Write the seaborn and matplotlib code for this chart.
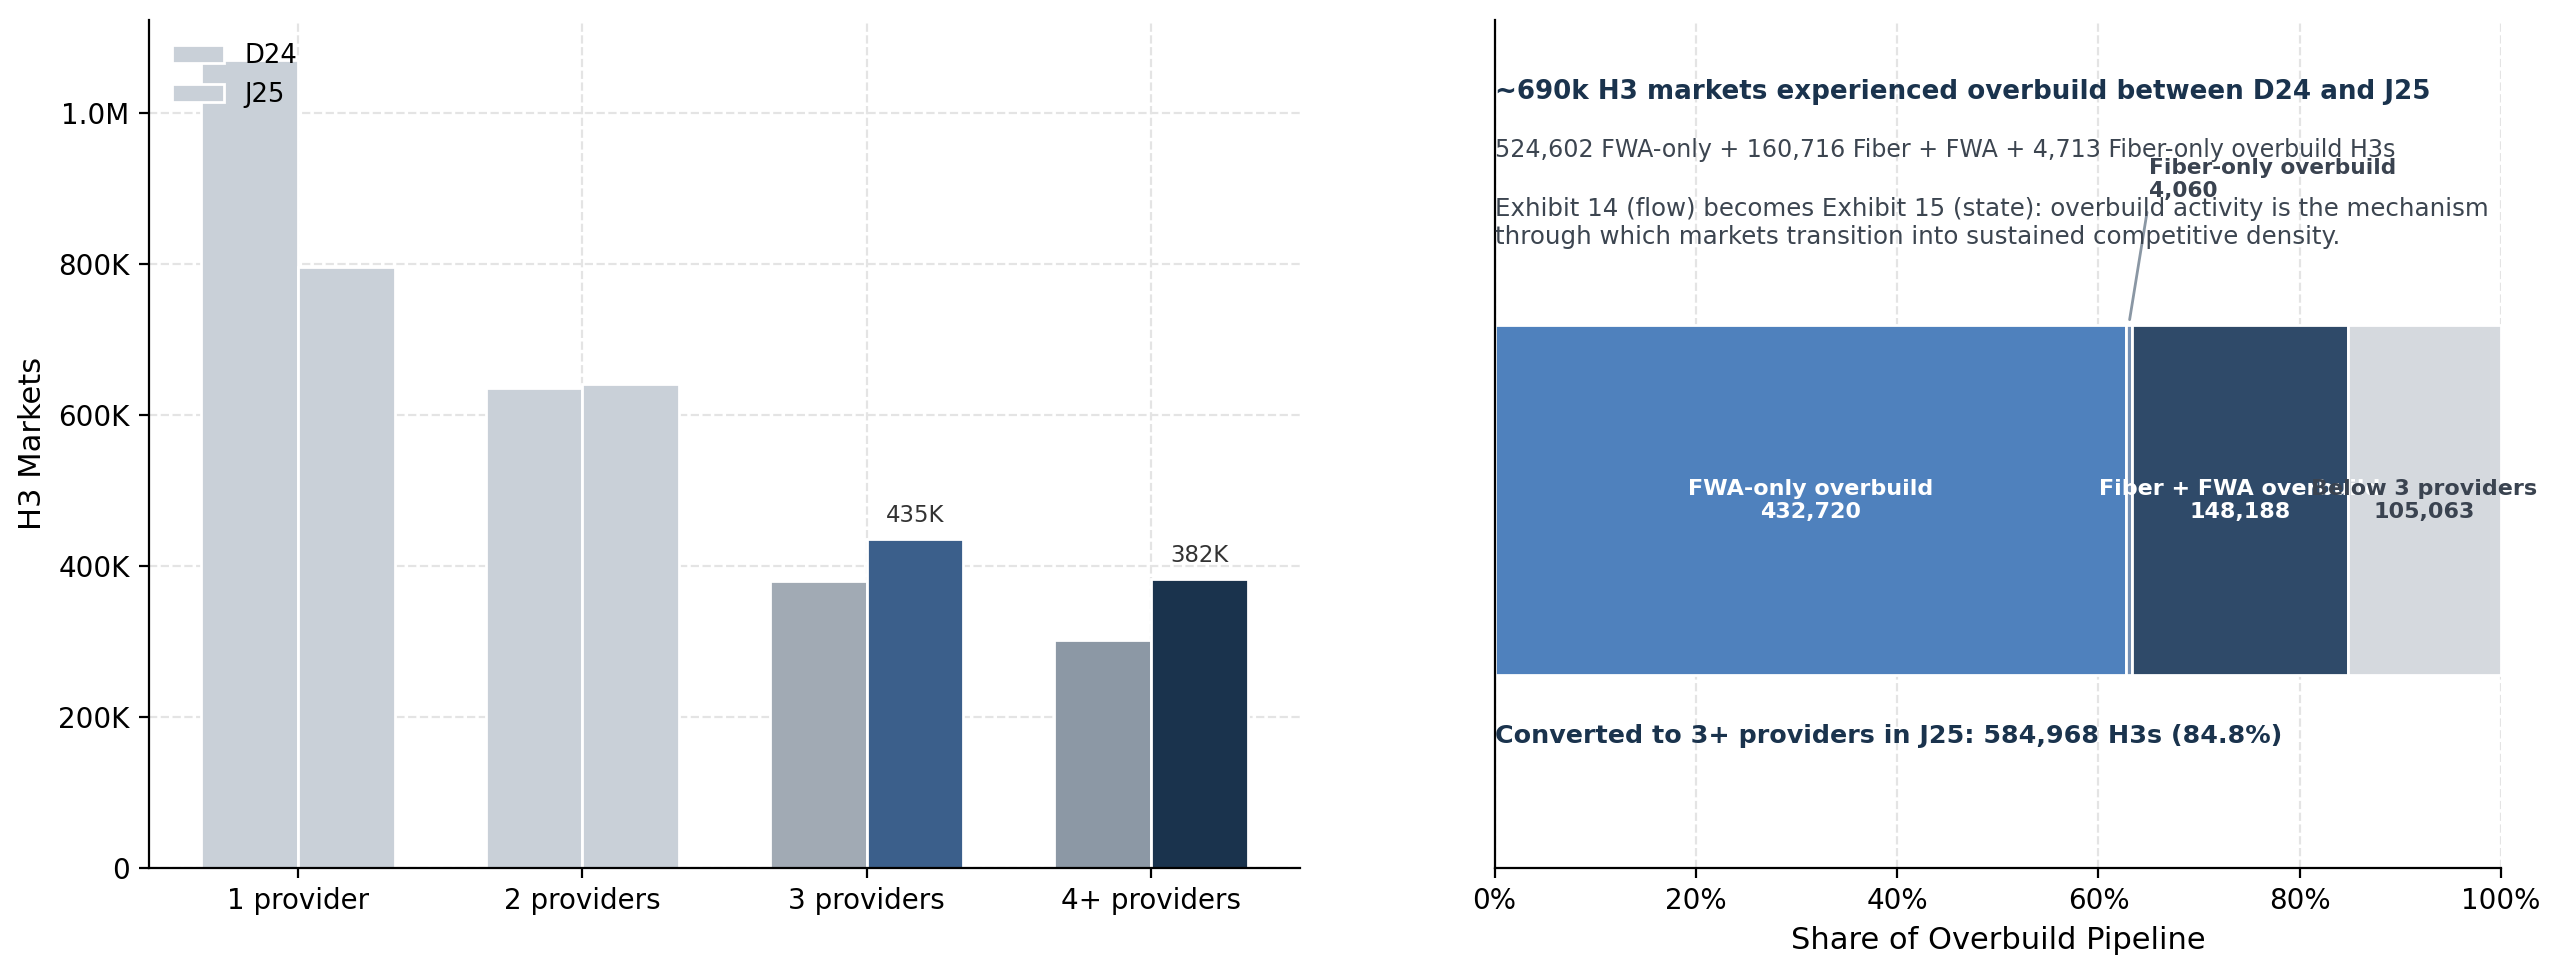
import numpy as np
import pandas as pd
import matplotlib
matplotlib.use("Agg")
import matplotlib.pyplot as plt
from matplotlib.ticker import FuncFormatter, PercentFormatter
from matplotlib.patches import Patch
import seaborn as sns

# ---------------- data ----------------
categories = ["1 provider", "2 providers", "3 providers", "4+ providers"]
periods = ["D24", "J25"]
d24_values = [1070000, 636000, 380000, 302000]
j25_values = [796000, 641000, 435000, 382000]
labelled_categories = ["3 providers", "4+ providers"]

segments = ["FWA-only overbuild", "Fiber-only overbuild",
            "Fiber + FWA overbuild", "Below 3 providers"]
segment_counts = [432720, 4060, 148188, 105063]
converted_segments = ["FWA-only overbuild", "Fiber-only overbuild", "Fiber + FWA overbuild"]

title_text = "~690k H3 markets experienced overbuild between D24 and J25"
subtitle_text = "524,602 FWA-only + 160,716 Fiber + FWA + 4,713 Fiber-only overbuild H3s"
note_text = ("Exhibit 14 (flow) becomes Exhibit 15 (state): overbuild activity is the mechanism\n"
             "through which markets transition into sustained competitive density.")

# ---------------- styles ----------------
d24_colors = ["#c9d0d8", "#c9d0d8", "#a1aab4", "#8c98a5"]
j25_colors = ["#c9d0d8", "#c9d0d8", "#3b5f8b", "#1a334d"]
legend_color = "#c9d0d8"
seg_colors = ["#4f81bd", "#7590b4", "#2f4a69", "#d5d9de"]
seg_text_colors = ["white", "#3a4350", "white", "#3a4350"]
grid_kw = dict(ls="--", lw=0.8, color="#e4e4e4")
navy = "#1a334d"
gray_text = "#3c4550"

fig = plt.figure(figsize=(12.8, 4.875), dpi=200)
fig.patch.set_facecolor("white")
ax1 = fig.add_axes([0.0582, 0.110, 0.4496, 0.870])
ax2 = fig.add_axes([0.5838, 0.110, 0.3932, 0.870])

# ---------------- left: grouped bars ----------------
df = pd.DataFrame({
    "category": categories * 2,
    "period": [p for p in periods for _ in categories],
    "value": d24_values + j25_values,
})
sns.barplot(data=df, x="category", y="value", hue="period", order=categories,
            hue_order=periods, palette={p: legend_color for p in periods},
            saturation=1, width=0.68, edgecolor="white", linewidth=1,
            errorbar=None, legend=False, ax=ax1)

bars = sorted(ax1.patches, key=lambda p: p.get_x())
for i, cat in enumerate(categories):
    b_d, b_j = bars[2 * i], bars[2 * i + 1]
    b_d.set_facecolor(d24_colors[i])
    b_j.set_facecolor(j25_colors[i])
    if cat in labelled_categories:
        v = j25_values[i]
        ax1.text(b_j.get_x() + b_j.get_width() / 2, b_j.get_height() + 16000,
                 f"{v / 1000:.0f}K", ha="center", va="bottom", fontsize=8.2,
                 color="#333333")

ymax = max(d24_values + j25_values) * 1.05
ax1.set_ylim(0, ymax)
ax1.set_xlim(-0.524, 3.524)


def kfmt(v, pos):
    if v >= 1e6:
        return f"{v / 1e6:.1f}M"
    if v == 0:
        return "0"
    return f"{v / 1e3:.0f}K"


ax1.yaxis.set_major_formatter(FuncFormatter(kfmt))
ax1.set_yticks(np.arange(0, 1000001, 200000))
ax1.set_xlabel("")
ax1.set_ylabel("H3 Markets", fontsize=11)
ax1.tick_params(axis="both", labelsize=10)
ax1.grid(True, axis="both", **grid_kw)
ax1.set_axisbelow(True)
for s in ["top", "right"]:
    ax1.spines[s].set_visible(False)
handles = [Patch(facecolor=legend_color, edgecolor="white", linewidth=1, label=p) for p in periods]
ax1.legend(handles=handles, loc="upper left", frameon=False, fontsize=9.3)

# ---------------- right: stacked share bar ----------------
total = sum(segment_counts)
left = 0.0
for name, count, color, tcol in zip(segments, segment_counts, seg_colors, seg_text_colors):
    share = count / total
    sns.barplot(x=[share], y=["pipeline"], orient="h", left=left, color=color,
                saturation=1, width=0.5, edgecolor="white", linewidth=1,
                errorbar=None, ax=ax2)
    if share > 0.02:
        ax2.text(left + share / 2, 0, f"{name}\n{count:,}", ha="center", va="center",
                 fontsize=8, fontweight="bold", color=tcol)
    else:
        ax2.annotate(f"{name}\n{count:,}", xy=(left + share / 2, 0.25),
                     xytext=(0.65, 0.427), ha="left", va="bottom", fontsize=7.8,
                     fontweight="bold", color=tcol,
                     arrowprops=dict(arrowstyle="-", color="#8a97a4", lw=1,
                                     relpos=(0, 0)))
    left += share

ax2.set_ylim(-0.525, 0.6866)
ax2.set_xlim(0, 1)
ax2.set_yticks([])
ax2.set_ylabel("")
ax2.set_xticks(np.arange(0, 1.01, 0.2))
ax2.xaxis.set_major_formatter(PercentFormatter(1.0, decimals=0))
ax2.tick_params(axis="x", labelsize=10)
ax2.set_xlabel("Share of Overbuild Pipeline", fontsize=11)
ax2.grid(True, axis="x", **grid_kw)
ax2.grid(False, axis="y")
ax2.set_axisbelow(True)
for s in ["top", "right"]:
    ax2.spines[s].set_visible(False)

converted = sum(c for n, c in zip(segments, segment_counts) if n in converted_segments)
converted_text = f"Converted to 3+ providers in J25: {converted:,} H3s ({converted / total * 100:.1f}%)"

ax2.text(0, 0.906, title_text, transform=ax2.transAxes, ha="left", va="baseline",
         fontsize=9.4, fontweight="bold", color=navy)
ax2.text(0, 0.8376, subtitle_text, transform=ax2.transAxes, ha="left", va="baseline",
         fontsize=8.55, color=gray_text)
ax2.text(0, 0.7354, note_text, transform=ax2.transAxes, ha="left", va="baseline",
         fontsize=8.82, color=gray_text)
ax2.text(0, 0.1474, converted_text, transform=ax2.transAxes, ha="left", va="baseline",
         fontsize=9.15, fontweight="bold", color=navy)

fig.savefig("out.png", dpi=200, facecolor="white")
